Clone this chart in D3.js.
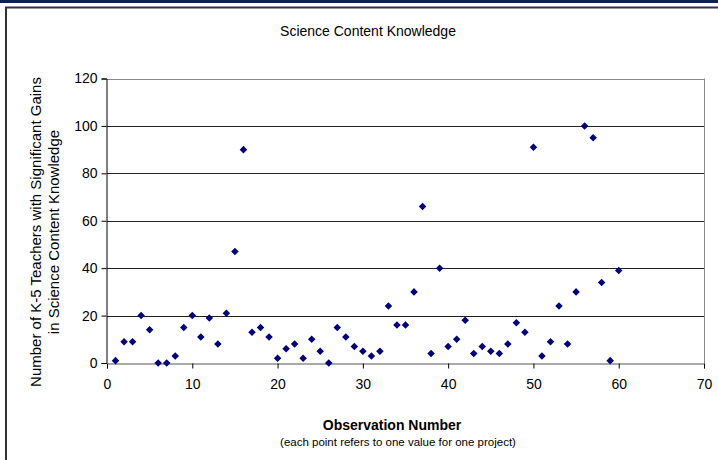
<!DOCTYPE html>
<html><head><meta charset="utf-8">
<script src="https://cdn.jsdelivr.net/npm/d3@7"></script>
<style>body{margin:0;background:#fff}svg{display:block}text{font-family:"Liberation Sans",Arial,sans-serif;fill:#000}</style>
</head><body>
<script>
const observations = d3.range(1, 61);
const values = [1,9,9,20,14,0,0,3,15,20,11,19,8,21,47,90,13,15,11,2,6,8,2,10,5,0,15,11,7,5,3,5,24,16,16,30,66,4,40,7,10,18,4,7,5,4,8,17,13,91,3,9,24,8,30,100,95,34,1,39];
const xTicks = [0,10,20,30,40,50,60,70];
const yTicks = [0,20,40,60,80,100,120];
const title = "Science Content Knowledge";
const xTitle = "Observation Number";
const xSubtitle = "(each point refers to one value for one project)";
const yTitle = ["Number of K-5 Teachers with Significant Gains", "in Science Content Knowledge"];

const W = 718, H = 460;
const svg = d3.select("body").append("svg").attr("width", W).attr("height", H);

// outer frame
svg.append("rect").attr("x",0).attr("y",0).attr("width",W).attr("height",3).attr("fill","#0b2150");
svg.append("line").attr("x1",5).attr("x2",W).attr("y1",7.5).attr("y2",7.5).attr("stroke","#333").attr("stroke-width",2);
svg.append("line").attr("x1",6).attr("x2",6).attr("y1",7).attr("y2",H).attr("stroke","#333").attr("stroke-width",2);

const L = 107, R = 704, T = 78.5, B = 363;
const x = d3.scaleLinear().domain([0,70]).range([L,R]);
const y = d3.scaleLinear().domain([0,120]).range([B,T]);

// gridlines
svg.append("g").selectAll("line").data(yTicks.filter(d=>d>0)).join("line")
  .attr("x1",L).attr("x2",R).attr("y1",d=>Math.round(y(d))+0.5).attr("y2",d=>Math.round(y(d))+0.5)
  .attr("stroke",d=>d===120?"#888":"#222").attr("stroke-width",1);
// right border
svg.append("line").attr("x1",R+0.5).attr("x2",R+0.5).attr("y1",T).attr("y2",B).attr("stroke","#888");

// y axis
const yAx = svg.append("g").attr("transform",`translate(${L-0.5},0)`)
  .call(d3.axisLeft(y).tickValues(yTicks).tickSize(5).tickPadding(4));
yAx.select(".domain").attr("stroke","#000");
yAx.selectAll(".tick line").attr("stroke","#000");
yAx.selectAll("text").attr("font-size",14).style("font-family","Liberation Sans, Arial, sans-serif");

// x axis
const xAx = svg.append("g").attr("transform",`translate(0,${B+0.5})`)
  .call(d3.axisBottom(x).tickValues(xTicks).tickSize(5).tickPadding(11));
xAx.select(".domain").attr("stroke","#555");
xAx.selectAll(".tick line").attr("stroke","#000");
xAx.selectAll("text").attr("font-size",14).style("font-family","Liberation Sans, Arial, sans-serif");

// points
const diamond = d3.symbol().type(d3.symbolDiamond2).size(36);
svg.append("g").selectAll("path").data(observations).join("path")
  .attr("transform",(d,i)=>`translate(${x(d)},${y(values[i])})`)
  .attr("d",diamond).attr("fill","#000080");

// titles
svg.append("text").attr("x",368).attr("y",36).attr("text-anchor","middle").attr("font-size",14).text(title);
svg.append("text").attr("x",392).attr("y",430).attr("text-anchor","middle").attr("font-size",14).attr("font-weight","bold").text(xTitle);
svg.append("text").attr("x",398).attr("y",446).attr("text-anchor","middle").attr("font-size",11.5).text(xSubtitle);
const yt = svg.append("text").attr("transform","translate(0,232) rotate(-90)").attr("text-anchor","middle").attr("font-size",15);
yt.append("tspan").attr("x",0).attr("y",41).text(yTitle[0]);
yt.append("tspan").attr("x",0).attr("y",59).text(yTitle[1]);
</script>
</body></html>
